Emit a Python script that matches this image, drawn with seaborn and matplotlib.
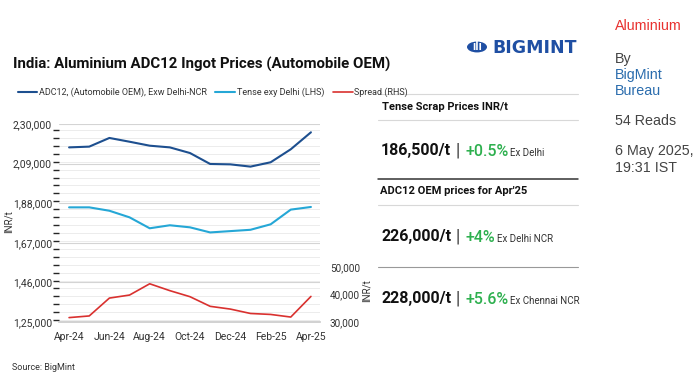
import numpy as np
import pandas as pd
import matplotlib.pyplot as plt
import seaborn as sns
from matplotlib.ticker import FixedLocator, MultipleLocator, FuncFormatter
from matplotlib.patches import Circle

months = ["Apr-24", "May-24", "Jun-24", "Jul-24", "Aug-24", "Sep-24", "Oct-24",
          "Nov-24", "Dec-24", "Jan-25", "Feb-25", "Mar-25", "Apr-25"]
adc12 = [217600, 218000, 222600, 220600, 218500, 217600, 214600,
         208800, 208600, 207400, 209700, 216600, 225600]
tense = [185800, 185800, 184000, 180500, 174700, 176300, 175200,
         172500, 173200, 173900, 176800, 184600, 186000]
spread = [31600, 32200, 38700, 39800, 43900, 41400, 39200,
          35700, 34700, 33100, 32750, 31800, 39300]

left_ticks = [125000, 146000, 167000, 188000, 209000, 230000]
right_ticks = [30000, 40000, 50000]

series_names = ["ADC12, (Automobile OEM), Exw Delhi-NCR", "Tense exy Delhi (LHS)", "Spread (RHS)"]
colors = ["#1d4f8f", "#25a7d6", "#d9312f"]

panel_rows = [
    ("186,500/t", "+0.5%", "Ex Delhi"),
    ("226,000/t", "+4%", "Ex Delhi NCR"),
    ("228,000/t", "+5.6%", "Ex Chennai NCR"),
]

sns.set_theme(style="white")
plt.rcParams["font.family"] = ["Roboto", "DejaVu Sans"]

W, H = 700, 381
fig = plt.figure(figsize=(7.0, 3.81), dpi=100)


def fx(px):
    return px / W


def fy(py):
    return 1 - py / H


def indian(v, _pos=None):
    # lakh style grouping: 2,30,000
    s = f"{int(v):d}"
    last3, rest = s[-3:], s[:-3]
    parts = []
    while len(rest) > 2:
        parts.insert(0, rest[-2:])
        rest = rest[:-2]
    if rest:
        parts.insert(0, rest)
    return ",".join(parts + [last3])


df = pd.DataFrame({"idx": np.arange(len(months)), "adc12": adc12, "tense": tense, "spread": spread})

ax = fig.add_axes([fx(59), fy(322), fx(320 - 59), (322 - 124) / H])
sns.lineplot(data=df, x="idx", y="adc12", ax=ax, color=colors[0], lw=1.5, label=series_names[0])
sns.lineplot(data=df, x="idx", y="tense", ax=ax, color=colors[1], lw=1.5, label=series_names[1])
ax.set_ylim(125000, 230000)
ax.set_xlim(-0.5, 12.45)
ax.yaxis.set_major_locator(FixedLocator(left_ticks))
ax.yaxis.set_minor_locator(MultipleLocator(4200))
ax.yaxis.set_major_formatter(FuncFormatter(indian))
ax.grid(True, which="major", axis="y", color="#d4d4d4", lw=0.8)
ax.grid(True, which="minor", axis="y", color="#ececec", lw=0.7)
ax.set_axisbelow(True)
ax.set_xticks(range(0, 13, 2))
ax.set_xticklabels(months[::2])
ax.tick_params(axis="both", labelsize=7.5, colors="#333333", length=0)
ax.tick_params(axis="x", pad=7)
ax.tick_params(axis="y", pad=5)
for s in ["top", "right", "left"]:
    ax.spines[s].set_visible(False)
ax.spines["bottom"].set_color("#cccccc")
ax.set_xlabel("")
ax.set_ylabel("")
ax.legend_.remove()

ax2 = ax.twinx()
sns.lineplot(data=df, x="idx", y="spread", ax=ax2, color=colors[2], lw=1.2, label=series_names[2])
ax2.set_ylim(30000, 102000)
ax2.yaxis.set_major_locator(FixedLocator(right_ticks))
ax2.yaxis.set_major_formatter(FuncFormatter(lambda v, p: f"{int(v):,}"))
ax2.tick_params(axis="y", labelsize=7.2, colors="#333333", length=0, pad=7)
for s in ["top", "right", "left", "bottom"]:
    ax2.spines[s].set_visible(False)
ax2.set_ylabel("")
ax2.legend_.remove()

# axis titles
fig.text(fx(9), fy(222), "INR/t", rotation=90, fontsize=7, color="#333333", ha="center", va="center")
fig.text(fx(367), fy(291), "INR/t", rotation=90, fontsize=7, color="#333333", ha="center", va="center")

# title
fig.text(fx(13), fy(64), "India: Aluminium ADC12 Ingot Prices (Automobile OEM)",
         fontsize=10.8, fontweight="bold", color="#111111", va="center")

# legend
handles = ax.get_lines()[:2] + ax2.get_lines()[:1]
fig.legend(handles, series_names, loc="center left", bbox_to_anchor=(fx(14), fy(92)),
           ncol=3, frameon=False, fontsize=6.5, handlelength=2.2, handletextpad=0.2,
           columnspacing=0.9, borderaxespad=0, labelcolor="#333333")

# source
fig.text(fx(12), fy(368), "Source: BigMint", fontsize=6.5, color="#333333", va="center")

# logo
fig.patches.append(Circle((fx(477), fy(47)), 10 / W, transform=fig.transFigure,
                          facecolor="#1f4fa3", edgecolor="none"))
fig.text(fx(477), fy(47), "ıİı", fontsize=8.5, color="white", ha="center", va="center",
         fontweight="bold")
fig.text(fx(492), fy(48), "BIGMINT", fontsize=12.5, fontweight="bold", color="#1f4fa3",
         va="center", family=["DejaVu Sans"])

# right side panel
lines_y = [(94, "#d8d8d8", 0.8), (120, "#d8d8d8", 0.8), (179, "#333333", 1.1),
           (205, "#d8d8d8", 0.8), (267, "#999999", 0.8)]
for y, c, lw in lines_y:
    fig.add_artist(plt.Line2D([fx(378), fx(578)], [fy(y), fy(y)], transform=fig.transFigure,
                              color=c, lw=lw))

fig.text(fx(382), fy(107), "Tense Scrap Prices INR/t", fontsize=8, fontweight="bold",
         color="#111111", va="center")
fig.text(fx(380), fy(191), "ADC12 OEM prices for Apr'25", fontsize=8, fontweight="bold",
         color="#111111", va="center")

renderer = fig.canvas.get_renderer()
for (price, pct, place), y in zip(panel_rows, [151, 237, 299]):
    x = fx(381)
    pieces = [(price, 11.5, "bold", "#111111", 0),
              ("|", 13, "normal", "#333333", 5),
              (pct, 11.5, "medium", "#2eb04f", 5),
              (place, 7, "normal", "#333333", 2)]
    for txt, size, weight, col, gap in pieces:
        x += gap / W
        t = fig.text(x, fy(y), txt, fontsize=size, fontweight=weight, color=col,
                     va="baseline" if size < 9 else "center")
        if size < 9:
            t.set_y(fy(y + 5))
        bb = t.get_window_extent(renderer)
        x += bb.width / W

# article meta column
meta = [("Aluminium", 26, "#e8312f"), ("By", 59, "#444444"), ("BigMint", 75, "#2a6cad"),
        ("Bureau", 91, "#2a6cad"), ("54 Reads", 121, "#444444"),
        ("6 May 2025,", 151, "#444444"), ("19:31 IST", 168, "#444444")]
for txt, y, col in meta:
    fig.text(fx(615), fy(y), txt, fontsize=10.3, color=col, va="center",
             family=["Liberation Sans", "DejaVu Sans"])

fig.savefig("out.png", dpi=100)
